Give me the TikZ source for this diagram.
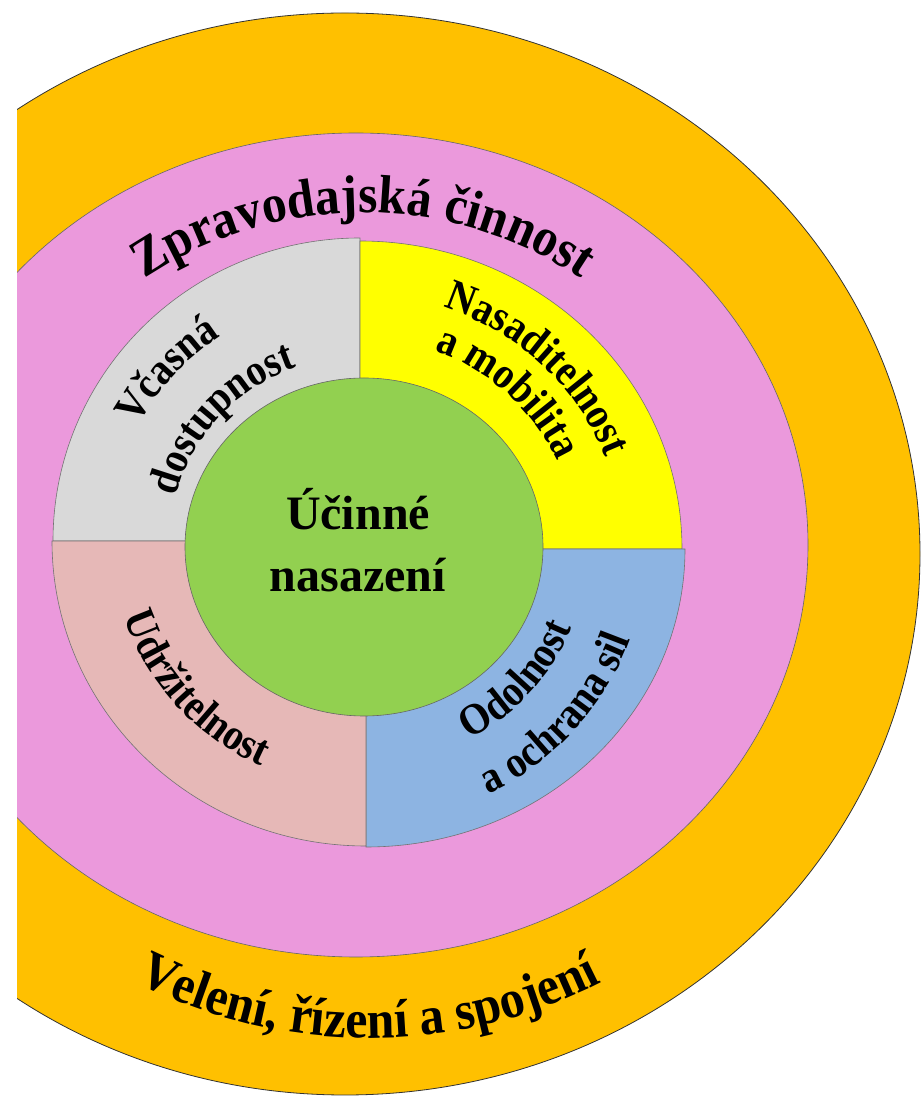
\documentclass[tikz,border=0pt]{standalone}
\usepackage{fontspec}
\setmainfont{Liberation Serif}
\newfontfamily\condserif[FakeStretch=0.92]{Liberation Serif}
\newfontfamily\condserifsector[FakeStretch=0.9]{Liberation Serif}
\usetikzlibrary{decorations.text,shapes.geometric}
\definecolor{ringorange}{HTML}{FFC000}
\definecolor{ringpink}{HTML}{EB99DC}
\definecolor{qgray}{HTML}{D9D9D9}
\definecolor{qyellow}{HTML}{FFFF00}
\definecolor{qrose}{HTML}{E6B8B7}
\definecolor{qblue}{HTML}{8DB4E2}
\definecolor{coregreen}{HTML}{92D050}
\newcommand\coretextfont{\fontsize{48}{58}\selectfont\bfseries}
\newcommand\ringtextfont{\condserif\fontsize{54}{60}\selectfont\bfseries}
\newcommand\sectortextfont{\condserifsector\fontsize{44}{50}\selectfont\bfseries}
\tikzset{
  ringline/.style={draw=black!80, line width=0.8pt},
  sectorline/.style={draw=black!55, line width=0.6pt},
}
\begin{document}
\begin{tikzpicture}[x=1pt,y=1pt]
\useasboundingbox (0,0) rectangle (924,1101);
\coordinate (oc) at (345,547);
\coordinate (pc) at (356,556);
\coordinate (gc) at (360,560);
\coordinate (yc) at (360,552);
\coordinate (bc) at (366,552);
\coordinate (rc) at (366,560);
\coordinate (cc) at (364,554);
\begin{scope}
\clip (17,0) rectangle (924,1101);
\path[ringline, fill=ringorange] (oc) ellipse[x radius=575, y radius=541];
\path[ringline, fill=ringpink, draw=black!60, line width=0.6pt] (pc) ellipse[x radius=452, y radius=412];
\end{scope}
% sectors
\path[sectorline, fill=qgray] (gc) -- ++(-307,0) arc[start angle=180, end angle=90, x radius=307, y radius=303] -- cycle;
\path[sectorline, fill=qyellow] (yc) -- ++(0,308) arc[start angle=90, end angle=0, x radius=322, y radius=308] -- cycle;
\path[sectorline, fill=qblue] (bc) -- ++(319,0) arc[start angle=360, end angle=270, x radius=319, y radius=298] -- cycle;
\path[sectorline, fill=qrose] (rc) -- ++(0,-305) arc[start angle=270, end angle=180, x radius=314, y radius=305] -- cycle;
% core
\node[ringline, draw=black!60, line width=0.6pt, fill=coregreen, ellipse, minimum width=358pt, minimum height=338pt, inner sep=0pt] (core) at (cc) {};
\node[font=\coretextfont, align=center, inner sep=0pt, text depth=0pt] (coretext) at (358,561) {Účinné\\[4pt]nasazení};
% ring texts
\path[decorate, decoration={text along path, text align=center, text={|\ringtextfont|Zpravodajská činnost}}]
  ([shift={(150:365 and 332)}]363,556) arc[start angle=150, end angle=30, x radius=365, y radius=332];
\path[decorate, decoration={text along path, text align=center, text={|\ringtextfont|Velení, řízení a spojení}}]
  ([shift={(230:500 and 484)}]369,547) arc[start angle=230, end angle=310, x radius=500, y radius=484];
% sector texts
\path[decorate, decoration={text along path, text align=center, text={|\sectortextfont|Včasná}}]
  ([shift={(183:252 and 245)}]gc) arc[start angle=183, end angle=93, x radius=252, y radius=245];
\path[decorate, decoration={text along path, text align=center, text={|\sectortextfont|dostupnost}}]
  ([shift={(183:190 and 184)}]gc) arc[start angle=183, end angle=93, x radius=190, y radius=184];
\path[decorate, decoration={text along path, text align=center, text={|\sectortextfont|Nasaditelnost}}]
  ([shift={(91:263 and 255)}]yc) arc[start angle=91, end angle=1, x radius=263, y radius=255];
\path[decorate, decoration={text along path, text align=center, text={|\sectortextfont|a mobilita}}]
  ([shift={(92:217 and 211)}]yc) arc[start angle=92, end angle=2, x radius=217, y radius=211];
\path[decorate, decoration={text along path, text align=center, text={|\sectortextfont|Udržitelnost}}]
  ([shift={(177:254 and 247)}]rc) arc[start angle=177, end angle=266, x radius=254, y radius=247];
\path[decorate, decoration={text along path, text align=center, text={|\sectortextfont|Odolnost}}]
  ([shift={(274:221 and 215)}]bc) arc[start angle=274, end angle=363, x radius=221, y radius=215];
\path[decorate, decoration={text along path, text align=center, text={|\sectortextfont|a ochrana sil}}]
  ([shift={(274:280 and 272)}]bc) arc[start angle=274, end angle=363, x radius=280, y radius=272];
\end{tikzpicture}
\end{document}
